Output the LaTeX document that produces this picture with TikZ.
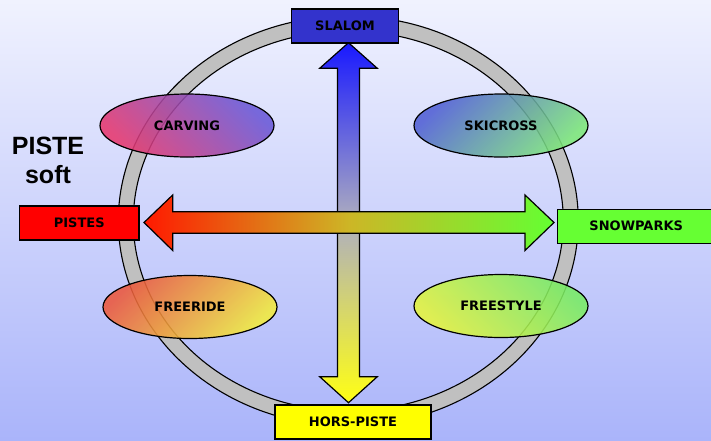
\documentclass[tikz,border=0pt]{standalone}
\usepackage{fontspec}
\setmainfont{DejaVu Sans}
\newfontfamily\titlefont{Liberation Sans}
\usetikzlibrary{shapes.geometric}
\definecolor{bgtop}{RGB}{240,242,254}
\definecolor{bgbot}{RGB}{170,180,250}
\definecolor{ringgray}{RGB}{192,192,192}
\definecolor{slalomblue}{RGB}{51,51,204}
\definecolor{pistered}{RGB}{255,0,0}
\definecolor{snowgreen}{RGB}{102,255,51}
\definecolor{hpyellow}{RGB}{255,255,0}
\definecolor{vtop}{RGB}{25,25,255}
\definecolor{vmid}{RGB}{175,175,190}
\definecolor{vbot}{RGB}{255,255,20}
\definecolor{hleft}{RGB}{255,25,0}
\definecolor{hmid}{RGB}{205,182,38}
\definecolor{hright}{RGB}{100,255,50}
\definecolor{carvA}{RGB}{230,55,110}
\definecolor{carvB}{RGB}{105,88,215}
\definecolor{skiA}{RGB}{80,95,212}
\definecolor{skiB}{RGB}{125,232,120}
\definecolor{frA}{RGB}{236,88,60}
\definecolor{frB}{RGB}{242,235,60}
\definecolor{fsA}{RGB}{228,244,60}
\definecolor{fsB}{RGB}{120,236,100}
\newcommand\mylbl{\fontsize{13}{15}\selectfont\bfseries}
\begin{document}
\begin{tikzpicture}[x=1pt,y=-1pt,
  oval/.style={ellipse, draw=black, line width=1.2pt, minimum width=174pt,
    minimum height=63pt, inner sep=0pt, fill opacity=0.88, draw opacity=1,
    text opacity=1, font=\mylbl},
  box/.style={draw=black, line width=1.3pt, inner sep=0pt, font=\mylbl, minimum height=34pt},
  blockarrow/.style={draw=black, line width=1.2pt, line join=miter}]
\useasboundingbox (0,0) rectangle (711,440);
\clip (0,0) rectangle (711,440);
\shade[top color=bgtop, bottom color=bgbot] (0,0) rectangle (711,440);
% ring
\coordinate (c) at (348.3,221);
\path[fill=ringgray, even odd rule, draw=black, line width=1.1pt]
  (c) ellipse [x radius=230pt, y radius=205pt]
  (c) ellipse [x radius=215pt, y radius=190pt];
% ovals
\node[oval, left color=carvA, right color=carvB, shading angle=135] (carving) at (187,125.5) {CARVING};
\node[oval, left color=skiA, right color=skiB, shading angle=45] (skicross) at (501,125.5) {SKICROSS};
\node[oval, left color=frA, right color=frB, shading angle=45] (freeride) at (190,307) {FREERIDE};
\node[oval, left color=fsA, right color=fsB, shading angle=135] (freestyle) at (501,306) {FREESTYLE};
% title
\node[font=\titlefont\fontsize{25}{29}\selectfont\bfseries, align=center, inner sep=0pt] (title) at (48,160.5) {PISTE\\soft};
% boxes
\node[box, fill=pistered, minimum width=119.5pt] (pistes) at (79.25,223) {PISTES};
\node[box, fill=snowgreen, minimum width=157.7pt] (snow) at (636.2,226.2) {SNOWPARKS};
% vertical arrow
\draw[blockarrow, top color=vtop, bottom color=vbot, middle color=vmid]
  (348.5,42.7) -- (377.3,68.3) -- (359.5,68.3) -- (359.5,376.7) -- (377.3,376.7)
  -- (348.5,402.7) -- (319.7,376.7) -- (337.5,376.7) -- (337.5,68.3) -- (319.7,68.3) -- cycle;
% horizontal arrow
\draw[blockarrow, left color=hleft, right color=hright, middle color=hmid]
  (144,222.5) -- (172.7,195) -- (172.7,211.7) -- (525,211.7) -- (525,195)
  -- (554,222.5) -- (525,250.5) -- (525,233.3) -- (172.7,233.3) -- (172.7,250.5) -- cycle;
% boxes on top of the arrow tips
\node[box, fill=slalomblue, minimum width=106.5pt] (slalom) at (345,25.9) {SLALOM};
\node[box, fill=hpyellow, minimum width=156pt] (hp) at (353,422) {HORS-PISTE};
\end{tikzpicture}
\end{document}
